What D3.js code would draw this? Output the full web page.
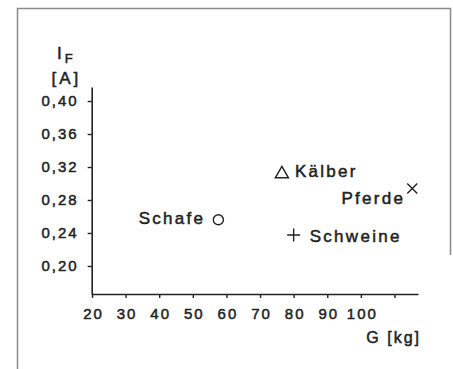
<!DOCTYPE html>
<html>
<head>
<meta charset="utf-8">
<script src="https://cdn.jsdelivr.net/npm/d3@7"></script>
<style>
  body { margin: 0; background: #fff; }
  text { font-family: "Liberation Sans", Arial, sans-serif; fill: #222; }
</style>
</head>
<body>
<div id="chart"></div>
<script>
// data
var animals = ["Schafe", "Kälber", "Pferde", "Schweine"];
var weight  = [57.6, 76.5, 115.3, 80.0];       // G [kg]
var current = [0.256, 0.3115, 0.294, 0.2376];  // I_F [A]
var markers = ["circle", "triangle", "cross", "plus"];

var xTicks = [20, 30, 40, 50, 60, 70, 80, 90, 100, 110];
var xTickLabels = ["20", "30", "40", "50", "60", "70", "80", "90", "100", ""];
var yTicks = [0.20, 0.24, 0.28, 0.32, 0.36, 0.40];
var yTickLabels = ["0,20", "0,24", "0,28", "0,32", "0,36", "0,40"];

var W = 453, H = 369;

var svg = d3.select("#chart")
  .append("svg")
    .attr("width", W)
    .attr("height", H);

// frame round the figure
svg.append("path")
  .attr("d", "M17.5,369 L17.5,8.5 L450.5,8.5 L450.5,255")
  .attr("fill", "none")
  .attr("stroke", "#8a8a8a")
  .attr("stroke-width", 1.5);

// scales
var x = d3.scaleLinear()
  .domain([20, 117])
  .range([92, 418]);

var y = d3.scaleLinear()
  .domain([0.166, 0.417])
  .range([294, 87]);

// X axis
var xAxis = svg.append("g")
  .attr("transform", "translate(0,294)")
  .call(d3.axisBottom(x)
    .tickValues(xTicks)
    .tickFormat(function(d, i) { return xTickLabels[i]; })
    .tickSize(4)
    .tickSizeOuter(0)
    .tickPadding(10));

// Y axis
var yAxis = svg.append("g")
  .attr("transform", "translate(91.7,0)")
  .call(d3.axisLeft(y)
    .tickValues(yTicks)
    .tickFormat(function(d, i) { return yTickLabels[i]; })
    .tickSize(4)
    .tickSizeOuter(0)
    .tickPadding(9));

[xAxis, yAxis].forEach(function(g) {
  g.select(".domain").attr("stroke", "#222").attr("stroke-width", 1.6);
  g.selectAll(".tick line").attr("stroke", "#222").attr("stroke-width", 1.4);
  g.selectAll("text")
    .attr("font-family", "Liberation Sans, Arial, sans-serif")
    .attr("font-size", 15)
    .attr("fill", "#222")
    .attr("stroke", "#222")
    .attr("stroke-width", 0.5)
    .style("letter-spacing", "2px");
});
xAxis.selectAll("text").attr("dx", 1);
yAxis.selectAll("text").attr("dx", 0);

// axis titles
var yt = svg.append("text")
  .attr("x", 57)
  .attr("y", 59)
  .attr("font-size", 17)
  .attr("stroke", "#222").attr("stroke-width", 0.5);
yt.append("tspan").text("I");
yt.append("tspan").attr("dx", 3).attr("dy", 4).attr("font-size", 13).text("F");

svg.append("text")
  .attr("x", 51.5)
  .attr("y", 84)
  .attr("font-size", 17)
  .attr("stroke", "#222").attr("stroke-width", 0.5)
  .style("letter-spacing", "3px")
  .text("[A]");

svg.append("text")
  .attr("x", 421)
  .attr("y", 343)
  .attr("text-anchor", "end")
  .attr("font-size", 16)
  .attr("stroke", "#222").attr("stroke-width", 0.5)
  .style("letter-spacing", "2px")
  .text("G [kg]");

// markers
var symbolType = {
  circle: d3.symbolCircle,
  triangle: d3.symbolTriangle
};
var symbolSize = { circle: 80, triangle: 75 };

var pts = animals.map(function(name, i) {
  return { name: name, g: weight[i], i: current[i], m: markers[i] };
});

svg.selectAll(".pt")
  .data(pts)
  .enter()
  .append("path")
    .attr("class", "pt")
    .attr("transform", function(d) { return "translate(" + x(d.g) + "," + y(d.i) + ")"; })
    .attr("d", function(d) {
      if (d.m === "plus") {
        return "M-6.5,0 L6.5,0 M0,-6.5 L0,6.5";
      }
      if (d.m === "cross") {
        return "M-5,-5 L5,5 M-5,5 L5,-5";
      }
      return d3.symbol().type(symbolType[d.m]).size(symbolSize[d.m])();
    })
    .attr("fill", "none")
    .attr("stroke", "#222")
    .attr("stroke-width", 1.4);

// point labels
var labelPos = {
  "Schafe":   { dx: -13, dy: 4, anchor: "end" },
  "Kälber":   { dx: 13, dy: 3, anchor: "start" },
  "Pferde":   { dx: -7, dy: 16, anchor: "end" },
  "Schweine": { dx: 16, dy: 7, anchor: "start" }
};

svg.selectAll(".lbl")
  .data(pts)
  .enter()
  .append("text")
    .attr("class", "lbl")
    .attr("x", function(d) { return x(d.g) + labelPos[d.name].dx; })
    .attr("y", function(d) { return y(d.i) + labelPos[d.name].dy; })
    .attr("text-anchor", function(d) { return labelPos[d.name].anchor; })
    .attr("font-size", 17)
    .attr("stroke", "#222")
    .attr("stroke-width", 0.5)
    .style("letter-spacing", "2.3px")
    .text(function(d) { return d.name; });
</script>
</body>
</html>
